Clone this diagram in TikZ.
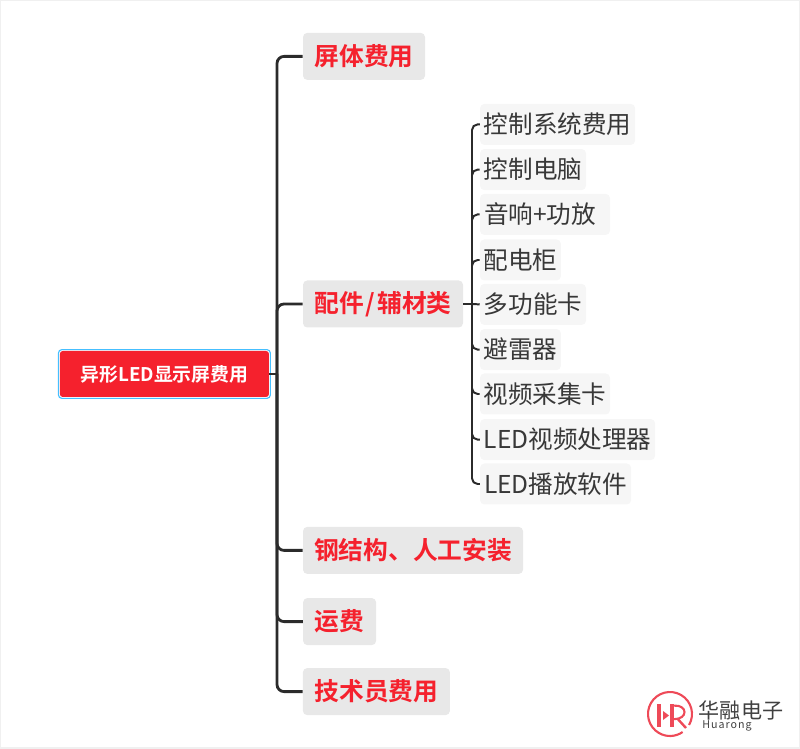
\documentclass[tikz,border=0pt]{standalone}
\usepackage{fontspec}
\setmainfont{Noto Sans CJK SC}
\newfontfamily\boldcjk{Noto Sans CJK SC Bold}
\definecolor{hrred}{HTML}{F5212D}
\definecolor{hrblue}{HTML}{45BFFF}
\definecolor{lineblack}{HTML}{2B2B2B}
\definecolor{logored}{HTML}{EE4A58}
\tikzset{
  rootbox/.style={rectangle,rounded corners=2pt,fill=hrred,text=white,font=\boldcjk\fontsize{13.4pt}{15pt}\selectfont,minimum width=5.225cm,minimum height=1.15cm,inner sep=0pt},
  mainbox/.style={rectangle,rounded corners=3pt,fill=black!9,text=hrred,font=\boldcjk\fontsize{17.6pt}{20pt}\selectfont,minimum height=1.175cm,inner sep=0pt},
  subbox/.style={rectangle,rounded corners=3pt,fill=black!3.5,text=black!78,font=\fontsize{17.5pt}{20pt}\selectfont,minimum height=1.025cm,inner sep=0pt},
  trunk/.style={draw=lineblack,line width=2pt,rounded corners=5pt},
  twig/.style={draw=lineblack,line width=1.4pt,rounded corners=4pt}
}
\begin{document}
\begin{tikzpicture}[scale=1.0]
\useasboundingbox (0,0) rectangle (20,18.7);
\draw[black!6,line width=1pt] (0,0) rectangle (20,18.7);
\draw[hrblue,line width=0.8pt,rounded corners=2.5pt] (1.46,8.74) rectangle (6.76,9.96);
\node[rootbox] (root) at (4.11,9.35) {异形LED显示屏费用};
\node[mainbox,minimum width=3.05cm] (screen) at (9.10,17.29) {屏体费用};
\node[mainbox,minimum width=4.0cm] (parts) at (9.575,11.1) {配件\kern1.4pt/\kern1.4pt辅材类};
\node[mainbox,minimum width=5.5cm] (steel) at (10.325,4.94) {钢结构、人工安装};
\node[mainbox,minimum width=1.825cm] (freight) at (8.49,3.16) {运费};
\node[mainbox,minimum width=3.675cm] (staff) at (9.41,1.41) {技术员费用};
\node[subbox,minimum width=3.875cm] (ctrl) at (13.94,15.59) {控制系统费用};
\node[subbox,minimum width=2.65cm] (pc) at (13.325,14.46) {控制电脑};
\node[subbox,minimum width=3.25cm] (audio) at (13.625,13.34) {音响+功放\kern7pt};
\node[subbox,minimum width=2.025cm] (cabinet) at (13.01,12.2) {配电柜};
\node[subbox,minimum width=2.65cm] (card) at (13.325,11.09) {多功能卡};
\node[subbox,minimum width=2.025cm] (arrester) at (13.01,9.96) {避雷器};
\node[subbox,minimum width=3.25cm] (capture) at (13.625,8.85) {视频采集卡};
\node[subbox,minimum width=4.375cm] (proc) at (14.19,7.71) {LED视频处理器};
\node[subbox,minimum width=3.775cm] (soft) at (13.89,6.6) {LED播放软件};
\coordinate (hub) at (6.925,9.35);
\coordinate (subhub) at (11.8,11.1);
\draw[trunk] (root.east) -- (hub);
\draw[trunk] (hub) |- (screen.west);
\draw[trunk] (hub) |- (parts.west);
\draw[trunk] (hub) |- (steel.west);
\draw[trunk] (hub) |- (freight.west);
\draw[trunk] (hub) |- (staff.west);
\draw[twig] (parts.east) -- (subhub);
\draw[twig] (subhub) |- (ctrl.west);
\draw[twig] (subhub) |- (pc.west);
\draw[twig] (subhub) |- (audio.west);
\draw[twig] (subhub) |- (cabinet.west);
\draw[twig] (subhub) -- (card.west);
\draw[twig] (subhub) |- (arrester.west);
\draw[twig] (subhub) |- (capture.west);
\draw[twig] (subhub) |- (proc.west);
\draw[twig] (subhub) |- (soft.west);
% logo
\coordinate (logo) at (16.75,0.85);
\draw[logored,line width=1.5pt] ([shift=(-30:0.55)]logo) arc (-30:305:0.55);
\fill[logored] (16.425,0.525) rectangle (16.525,1.1);
\fill[logored] (16.75,0.525) rectangle (16.85,1.1);
\fill[logored] (16.575,0.925) -- (16.575,0.7) -- (16.725,0.8125) -- cycle;
\draw[logored,line width=1.5pt] (16.85,1.06) .. controls (17.2,1.08) and (17.2,0.72) .. (16.85,0.72);
\draw[logored,line width=1.7pt] (16.93,0.74) -- (17.15,0.5);
\node[text=black!75,font=\fontsize{15pt}{17pt}\selectfont,inner sep=0pt] (brand) at (18.525,0.95) {华融电子};
\node[text=black!75,font=\addfontfeature{LetterSpace=9}\fontsize{7.6pt}{9pt}\selectfont,inner sep=0pt] (brandlatin) at (18.175,0.54) {Huarong};
\end{tikzpicture}
\end{document}
